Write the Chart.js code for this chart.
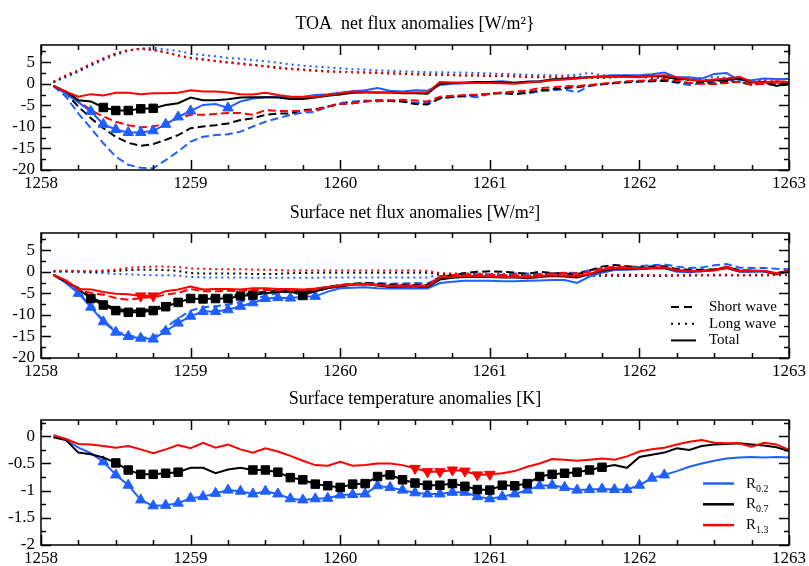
<!DOCTYPE html>
<html>
<head>
<meta charset="utf-8">
<title>Flux and temperature anomalies</title>
<script src="https://cdn.jsdelivr.net/npm/chart.js@4.4.1/dist/chart.umd.min.js"></script>
<style>
  body { margin: 0; background: #fff; }
  #wrap { position: relative; width: 809px; height: 566px; }
  canvas { position: absolute; left: 0; }
</style>
</head>
<body>
<div id="wrap">
  <canvas id="toa" width="809" height="192" style="top:0"></canvas>
  <canvas id="sfc" width="809" height="190" style="top:190px"></canvas>
  <canvas id="tmp" width="809" height="188" style="top:378px"></canvas>
</div>
<script>
// monthly values, Jan 1258 .. Dec 1262, plotted at the end of each month
const years = Array.from({ length: 60 }, (_, i) => 1258 + (i + 1) / 12);
const yearTicks = [1258, 1259, 1260, 1261, 1262, 1263];

const BLUE = '#1f5fff';
const BLACK = '#000000';
const RED = '#ff0000';

// ---- TOA net flux anomalies [W/m2]
const toaSwR02 = [-0.5, -3.0, -6.9, -10.3, -13.8, -16.9, -18.8, -19.5, -19.6, -17.7,
  -15.7, -13.4, -12.3, -11.9, -11.7, -11.1, -9.9, -8.8, -8.0, -7.2,
  -6.7, -6.5, -5.3, -4.5, -4.1, -3.9, -4.1, -3.8, -4.1, -4.4,
  -4.4, -3.3, -3.1, -2.9, -3.1, -2.3, -2.1, -2.0, -2.3, -1.7,
  -1.5, -1.3, -2.0, -0.5, -0.1, 0.1, 0.3, 0.5, 0.6, 0.9,
  0.2, -0.3, 0.1, 0.4, 0.9, 0.3, 0.0, 0.3, 0.1, 0.1];
const toaSwR07 = [-0.5, -2.2, -5.3, -8.0, -10.3, -12.3, -13.7, -14.4, -14.0, -13.0,
  -11.9, -10.3, -9.9, -9.6, -9.2, -8.4, -8.0, -7.2, -6.9, -6.9,
  -6.1, -5.9, -5.3, -4.7, -4.5, -4.1, -3.8, -4.0, -4.1, -4.7,
  -4.8, -3.4, -3.0, -2.8, -2.6, -2.3, -2.2, -2.4, -2.1, -1.5,
  -1.3, -1.0, -0.8, -0.4, -0.1, 0.2, 0.4, 0.6, 0.6, 0.7,
  0.4, 0.2, 0.3, 0.0, 0.5, 0.4, -0.2, 0.1, -0.4, -0.2];
const toaSwR13 = [-0.5, -1.8, -4.1, -6.1, -7.6, -8.8, -9.6, -10.1, -9.9, -9.2,
  -8.0, -7.2, -7.2, -7.0, -6.8, -6.8, -7.2, -6.1, -6.3, -6.3,
  -6.3, -6.1, -5.3, -4.7, -4.5, -4.1, -3.9, -3.9, -3.7, -3.9,
  -4.1, -3.0, -2.8, -2.6, -2.5, -2.3, -2.0, -1.8, -1.6, -1.0,
  -0.8, -0.6, -0.5, -0.3, 0.0, 0.3, 0.6, 0.7, 0.9, 1.1,
  0.7, 0.2, 0.0, -0.1, 0.2, 0.5, -0.2, 0.0, 0.1, 0.0];
const toaLwR02 = [0.3, 1.5, 2.8, 4.2, 5.5, 6.7, 7.6, 8.2, 8.4, 8.0,
  7.6, 7.0, 6.7, 6.4, 6.0, 5.8, 5.5, 5.2, 4.9, 4.5,
  4.2, 4.0, 3.8, 3.6, 3.4, 3.3, 3.1, 3.0, 2.9, 2.8,
  2.7, 2.7, 2.6, 2.6, 2.5, 2.4, 2.3, 2.2, 2.1, 2.0,
  2.0, 1.9, 2.1, 2.5, 2.0, 1.8, 1.7, 1.6, 1.6, 1.5,
  1.4, 1.2, 1.4, 1.6, 1.4, 1.0, 0.8, 0.9, 1.0, 1.0];
const toaLwR07 = [0.4, 1.8, 3.0, 4.5, 5.8, 7.0, 7.8, 8.1, 7.9, 7.3,
  6.6, 6.0, 5.7, 5.3, 5.0, 4.7, 4.4, 4.1, 3.8, 3.5,
  3.3, 3.1, 2.9, 2.8, 2.7, 2.6, 2.5, 2.4, 2.3, 2.2,
  2.1, 2.1, 2.0, 1.9, 1.9, 1.8, 1.8, 1.7, 1.6, 1.5,
  1.5, 1.4, 1.5, 1.4, 1.4, 1.5, 1.6, 1.6, 1.4, 1.5,
  1.2, 0.9, 0.7, 0.7, 1.0, 1.2, 0.5, 0.5, 0.3, 0.2];
const toaLwR13 = [0.5, 2.0, 3.2, 4.7, 5.9, 7.1, 7.8, 8.1, 7.8, 7.3,
  6.5, 5.9, 5.6, 5.2, 4.9, 4.6, 4.3, 4.0, 3.6, 3.4,
  3.2, 3.0, 2.8, 2.8, 2.7, 2.6, 2.6, 2.4, 2.4, 2.3,
  2.2, 2.2, 2.1, 2.0, 2.0, 1.9, 1.9, 1.8, 1.7, 1.6,
  1.6, 1.5, 1.6, 1.5, 1.5, 1.6, 1.8, 1.7, 1.5, 1.6,
  1.3, 1.0, 0.8, 0.8, 1.2, 1.3, 0.6, 0.6, 0.5, 0.3];
const toaNetR02 = [-0.5, -2.3, -4.3, -6.4, -9.4, -10.6, -11.3, -11.3, -10.9, -9.4,
  -7.7, -6.3, -4.9, -4.7, -5.6, -4.1, -3.4, -3.1, -3.0, -3.0,
  -3.0, -2.6, -2.4, -2.1, -1.7, -1.5, -1.0, -1.6, -1.8, -1.5,
  -1.6, -0.3, 0.0, 0.1, 0.2, 0.4, 0.6, 0.3, 0.5, 0.5,
  1.0, 1.3, 1.4, 1.6, 1.8, 2.0, 2.0, 2.0, 2.2, 2.6,
  1.5, 1.5, 1.2, 2.3, 2.5, 0.8, 0.8, 1.2, 1.1, 1.1];
const toaNetR07 = [-0.5, -1.8, -3.8, -4.1, -5.5, -6.2, -6.2, -5.8, -5.7, -4.9,
  -4.5, -3.2, -3.8, -3.8, -3.6, -3.2, -3.1, -3.1, -3.2, -3.5,
  -3.5, -3.2, -2.8, -2.5, -2.1, -2.0, -2.0, -2.0, -2.2, -2.2,
  -2.3, 0.0, 0.2, 0.3, 0.4, 0.4, 0.3, 0.2, 0.5, 0.6,
  1.0, 1.1, 1.3, 1.5, 1.6, 1.7, 1.7, 1.6, 1.8, 1.7,
  1.1, 1.0, 0.6, 0.8, 0.9, 1.2, 0.3, 0.5, -0.5, 0.2];
const toaNetR13 = [-0.5, -1.8, -3.0, -2.4, -2.7, -2.1, -2.1, -2.4, -2.2, -2.2,
  -2.1, -1.5, -1.8, -1.8, -2.0, -2.4, -2.5, -2.1, -2.6, -3.0,
  -3.1, -3.0, -2.6, -2.2, -1.8, -1.9, -2.0, -2.0, -2.0, -2.0,
  -2.0, 0.4, 0.3, 0.2, 0.2, 0.2, 0.1, 0.0, 0.3, 0.5,
  0.8, 1.0, 1.2, 1.5, 1.6, 1.7, 1.6, 1.5, 1.8, 2.0,
  1.5, 1.0, 0.7, 1.0, 1.2, 1.6, 0.5, 0.3, 0.6, 0.4];
const toaMarksR02 = [4, 5, 6, 7, 8, 9, 10, 11, 12, 15];
const toaMarksR07 = [5, 6, 7, 8, 9];

// ---- Surface net flux anomalies [W/m2]
const sfcSwR02 = [-0.7, -2.5, -4.8, -8.0, -11.3, -13.8, -14.8, -15.2, -15.3, -13.0,
  -10.8, -9.0, -8.2, -8.0, -7.6, -7.0, -6.2, -5.6, -5.0, -4.6,
  -4.5, -4.5, -3.8, -3.0, -2.9, -2.6, -2.6, -2.8, -2.7, -2.6,
  -2.7, -1.5, -1.0, -0.8, -0.6, -0.6, -0.7, -0.4, -0.4, -0.5,
  -0.3, -0.2, -0.3, 0.4, 0.8, 1.0, 1.1, 1.3, 1.5, 1.7,
  1.2, 0.9, 1.0, 1.5, 1.8, 1.0, 0.9, 0.9, 0.7, 0.6];
const sfcSwR07 = [-0.7, -2.2, -3.8, -5.8, -7.3, -8.6, -9.0, -9.0, -8.6, -7.6,
  -6.6, -5.9, -5.9, -5.8, -5.7, -5.2, -5.0, -4.6, -4.3, -4.2,
  -4.8, -4.0, -3.5, -3.1, -2.8, -2.6, -2.8, -3.0, -3.0, -3.0,
  -3.1, -1.2, -0.8, -0.3, 0.0, 0.1, 0.0, -0.2, -0.5, 0.0,
  -0.3, -0.4, -0.6, 0.3, 1.2, 1.6, 1.3, 1.0, 1.2, 1.3,
  0.6, 0.5, 0.5, 0.6, 1.1, 0.4, 0.3, 0.2, -0.4, 0.3];
const sfcSwR13 = [-0.7, -2.2, -4.1, -4.9, -5.3, -6.1, -6.5, -6.1, -5.9, -5.3,
  -4.9, -4.0, -4.5, -4.5, -4.4, -4.5, -4.2, -4.2, -4.3, -4.3,
  -4.3, -4.1, -3.6, -3.2, -3.0, -2.9, -3.1, -3.3, -3.2, -3.2,
  -3.2, -1.0, -0.8, -0.6, -0.6, -0.7, -0.8, -0.8, -1.0, -0.7,
  -0.4, -0.3, -0.4, 0.0, 0.8, 1.2, 1.1, 0.8, 1.0, 1.1,
  0.4, 0.2, 0.3, 0.5, 1.2, 0.3, 0.3, 0.2, -0.3, 0.3];
const sfcLwR02 = [0.0, 0.0, -0.1, -0.2, -0.3, -0.5, -0.6, -0.7, -0.8, -0.8,
  -0.9, -1.2, -1.3, -1.3, -1.3, -1.3, -1.4, -1.4, -1.4, -1.4,
  -1.4, -1.4, -1.3, -1.3, -1.3, -1.3, -1.3, -1.3, -1.3, -1.3,
  -1.3, -0.7, -0.7, -0.7, -0.8, -0.8, -0.8, -0.9, -0.9, -0.9,
  -0.9, -1.0, -1.0, -1.0, -1.0, -1.0, -1.0, -1.0, -0.9, -0.9,
  -0.9, -0.9, -0.8, -0.8, -0.8, -0.8, -0.8, -0.8, -0.8, -0.8];
const sfcLwR07 = [0.1, 0.1, 0.1, 0.0, 0.1, 0.2, 0.4, 0.5, 0.5, 0.4,
  0.2, -0.3, -0.4, -0.4, -0.4, -0.4, -0.5, -0.5, -0.5, -0.3,
  -0.3, -0.2, -0.2, -0.2, -0.2, -0.2, -0.2, -0.2, -0.2, -0.2,
  -0.2, -0.5, -0.5, -0.5, -0.6, -0.6, -0.6, -0.7, -0.7, -0.7,
  -0.8, -0.8, -0.8, -0.8, -0.8, -0.8, -0.9, -0.9, -0.9, -0.9,
  -0.8, -0.8, -0.8, -0.8, -0.8, -0.8, -0.8, -0.8, -0.7, -0.7];
const sfcLwR13 = [0.2, 0.3, 0.2, 0.2, 0.3, 0.5, 0.9, 1.1, 1.2, 1.2,
  1.1, 0.8, 0.7, 0.6, 0.6, 0.6, 0.5, 0.5, 0.4, 0.3,
  0.3, 0.3, 0.3, 0.3, 0.3, 0.3, 0.3, 0.3, 0.3, 0.3,
  0.2, -0.3, -0.4, -0.4, -0.4, -0.5, -0.5, -0.5, -0.6, -0.6,
  -0.6, -0.7, -0.7, -0.7, -0.7, -0.7, -0.6, -0.7, -0.8, -0.8,
  -0.8, -0.7, -0.8, -0.7, -0.7, -0.8, -0.7, -0.7, -0.7, -0.6];
const sfcNetR02 = [-0.7, -2.6, -5.0, -8.2, -11.6, -14.0, -15.0, -15.4, -15.6, -13.8,
  -11.9, -10.3, -9.2, -9.2, -8.8, -8.0, -7.2, -6.2, -6.0, -6.1,
  -5.8, -5.7, -4.6, -3.8, -3.7, -3.6, -3.8, -3.9, -3.8, -3.9,
  -3.9, -2.6, -2.3, -2.1, -2.1, -2.1, -2.2, -2.2, -2.1, -2.0,
  -1.9, -1.9, -2.6, -1.1, -0.2, 0.4, 0.5, 0.6, 0.8, 0.8,
  0.0, -0.1, 0.1, 0.5, 0.9, 0.0, 0.0, 0.1, -0.5, 0.2];
const sfcNetR07 = [-0.7, -2.3, -4.0, -6.2, -7.7, -9.0, -9.4, -9.4, -9.0, -8.1,
  -7.1, -6.2, -6.3, -6.2, -6.2, -5.6, -5.4, -5.0, -4.7, -4.6,
  -5.4, -4.5, -3.8, -3.4, -3.0, -2.9, -3.2, -3.5, -3.4, -3.4,
  -3.5, -1.8, -1.4, -1.2, -1.2, -1.2, -1.3, -1.3, -1.5, -1.2,
  -1.0, -1.1, -1.3, -0.6, 0.2, 0.7, 0.8, 0.7, 0.8, 0.9,
  0.3, 0.1, 0.2, 0.4, 0.9, 0.1, 0.1, 0.1, -0.6, 0.2];
const sfcNetR13 = [-0.7, -2.0, -4.0, -4.1, -4.7, -5.1, -5.2, -5.6, -5.6, -4.5,
  -4.1, -3.4, -4.1, -4.0, -4.0, -4.1, -3.8, -3.8, -4.0, -4.0,
  -4.1, -3.9, -3.5, -3.1, -2.9, -2.8, -3.0, -3.3, -3.2, -3.3,
  -3.3, -1.3, -1.2, -1.0, -1.0, -1.1, -1.2, -1.2, -1.3, -1.0,
  -0.8, -0.9, -1.0, -0.5, 0.5, 0.9, 0.9, 0.7, 0.9, 1.0,
  0.3, 0.1, 0.1, 0.3, 1.0, 0.1, 0.2, 0.2, -0.5, 0.3];
const sfcMarksR02 = [3, 4, 5, 6, 7, 8, 9, 10, 11, 12, 13, 14, 15, 16, 17, 18, 19, 20, 21, 22];
const sfcMarksR07 = [4, 5, 6, 7, 8, 9, 10, 11, 12, 13, 14, 15, 16, 17, 21];
const sfcMarksR13 = [8, 9];
const waveNames = ['Short wave', 'Long wave', 'Total'];

// ---- Surface temperature anomalies [K]
const tempR02 = [-0.01, -0.07, -0.21, -0.31, -0.47, -0.71, -0.90, -1.17, -1.28, -1.27,
  -1.23, -1.14, -1.11, -1.05, -0.99, -1.01, -1.06, -1.01, -1.06, -1.15,
  -1.17, -1.15, -1.14, -1.08, -1.07, -1.06, -0.91, -0.94, -0.99, -1.04,
  -1.06, -1.06, -1.03, -1.03, -1.11, -1.15, -1.11, -1.06, -0.99, -0.91,
  -0.90, -0.94, -0.99, -0.98, -0.97, -0.98, -0.98, -0.90, -0.77, -0.71,
  -0.64, -0.56, -0.50, -0.45, -0.41, -0.39, -0.38, -0.39, -0.38, -0.39];
const tempR07 = [-0.02, -0.07, -0.30, -0.33, -0.39, -0.49, -0.62, -0.70, -0.70, -0.68,
  -0.66, -0.58, -0.58, -0.68, -0.61, -0.58, -0.62, -0.62, -0.66, -0.76,
  -0.80, -0.88, -0.91, -0.94, -0.88, -0.87, -0.74, -0.71, -0.80, -0.86,
  -0.90, -0.90, -0.87, -0.92, -0.98, -0.99, -0.90, -0.91, -0.87, -0.74,
  -0.70, -0.68, -0.66, -0.62, -0.57, -0.53, -0.58, -0.38, -0.34, -0.30,
  -0.22, -0.25, -0.18, -0.15, -0.14, -0.13, -0.15, -0.17, -0.20, -0.27];
const tempR13 = [0.02, -0.05, -0.14, -0.15, -0.18, -0.21, -0.18, -0.24, -0.31, -0.24,
  -0.16, -0.22, -0.12, -0.21, -0.15, -0.24, -0.30, -0.22, -0.28, -0.36,
  -0.45, -0.53, -0.54, -0.47, -0.54, -0.53, -0.50, -0.50, -0.53, -0.59,
  -0.65, -0.65, -0.62, -0.64, -0.71, -0.70, -0.68, -0.64, -0.56, -0.50,
  -0.42, -0.43, -0.45, -0.43, -0.41, -0.43, -0.37, -0.28, -0.24, -0.21,
  -0.15, -0.10, -0.07, -0.12, -0.13, -0.13, -0.19, -0.12, -0.15, -0.25];
const tempMarksR02 = [5, 6, 7, 8, 9, 10, 11, 12, 13, 14, 15, 16, 17, 18, 19, 20, 21, 22, 23, 24,
  25, 26, 27, 28, 29, 30, 31, 32, 33, 34, 35, 36, 37, 38, 39, 40, 41, 42, 43, 44,
  45, 46, 47, 48, 49, 50];
const tempMarksR07 = [6, 7, 8, 9, 10, 11, 17, 18, 19, 20, 21, 22, 23, 24, 25, 26, 27, 28, 29, 30,
  31, 32, 33, 34, 35, 36, 37, 38, 39, 40, 41, 42, 43, 44, 45];
const tempMarksR13 = [30, 31, 32, 33, 34, 35, 36];
const runNames = [['R', '0.2'], ['R', '0.7'], ['R', '1.3']];
const runColors = [BLUE, BLACK, RED];

const SERIF = '"Liberation Serif", "Times New Roman", serif';

function series(values, color, style, marks, shape) {
  return {
    data: years.map((x, i) => ({ x, y: values[i] })),
    borderColor: color,
    backgroundColor: color,
    borderWidth: 2,
    borderDash: style === 'dash' ? [8, 4] : style === 'dot' ? [2, 4] : [],
    tension: 0,
    pointStyle: shape === 'square' ? 'rect' : 'triangle',
    pointRotation: shape === 'down' ? 180 : 0,
    pointBorderWidth: 1,
    pointBorderColor: color,
    pointBackgroundColor: color,
    pointRadius: c => (marks && marks.includes(c.dataIndex + 1) ? 6 : 0),
    pointHoverRadius: 0
  };
}

// frame with inward ticks on all four sides (grace style)
const frameTicks = {
  id: 'frameTicks',
  afterDatasetsDraw(chart, args, opts) {
    const { ctx, chartArea: a, scales: { x, y } } = chart;
    ctx.save();
    ctx.strokeStyle = '#000';
    ctx.lineWidth = 1.5;
    ctx.beginPath();
    const steps = (min, max, step) => {
      const out = [];
      for (let v = Math.ceil(min / step - 1e-6) * step; v <= max + 1e-6; v += step) out.push(v);
      return out;
    };
    const isMajor = (v, step) => Math.abs(v / step - Math.round(v / step)) < 1e-6;
    steps(x.min, x.max, opts.xMinor).forEach(v => {
      const p = Math.round(x.getPixelForValue(v)) + 0.5;
      const len = isMajor(v, opts.xMajor) ? 10 : 5;
      ctx.moveTo(p, a.bottom); ctx.lineTo(p, a.bottom - len);
      ctx.moveTo(p, a.top); ctx.lineTo(p, a.top + len);
    });
    steps(y.min, y.max, opts.yMinor).forEach(v => {
      const p = Math.round(y.getPixelForValue(v)) + 0.5;
      const len = isMajor(v, opts.yMajor) ? 10 : 5;
      ctx.moveTo(a.left, p); ctx.lineTo(a.left + len, p);
      ctx.moveTo(a.right, p); ctx.lineTo(a.right - len, p);
    });
    ctx.stroke();
    ctx.strokeRect(a.left, a.top, a.right - a.left, a.bottom - a.top);
    ctx.restore();
  }
};

const waveLegend = {
  id: 'waveLegend',
  afterDraw(chart) {
    const { ctx, chartArea: a } = chart;
    const dashes = [[8, 5], [2, 5], []];
    ctx.save();
    ctx.font = '15px ' + SERIF;
    ctx.textBaseline = 'middle';
    ctx.fillStyle = '#000';
    ctx.strokeStyle = '#000';
    ctx.lineWidth = 2;
    waveNames.forEach((name, i) => {
      const yy = a.top + 74 + i * 16.7;
      ctx.setLineDash(dashes[i]);
      ctx.beginPath();
      ctx.moveTo(a.right - 118, yy);
      ctx.lineTo(a.right - 93, yy);
      ctx.stroke();
      ctx.fillText(name, a.right - 80, yy);
    });
    ctx.restore();
  }
};

const runLegend = {
  id: 'runLegend',
  afterDraw(chart) {
    const { ctx, chartArea: a } = chart;
    ctx.save();
    ctx.textBaseline = 'alphabetic';
    ctx.fillStyle = '#000';
    ctx.lineWidth = 2.5;
    runNames.forEach((parts, i) => {
      const yy = a.top + 63.5 + i * 20.8;
      ctx.strokeStyle = runColors[i];
      ctx.beginPath();
      ctx.moveTo(a.right - 86, yy);
      ctx.lineTo(a.right - 55, yy);
      ctx.stroke();
      ctx.font = '15px ' + SERIF;
      ctx.fillText(parts[0], a.right - 43, yy + 4);
      const w = ctx.measureText(parts[0]).width;
      ctx.font = '10px ' + SERIF;
      ctx.fillText(parts[1], a.right - 43 + w, yy + 8);
    });
    ctx.restore();
  }
};

function panel(id, opts) {
  return new Chart(document.getElementById(id), {
    type: 'line',
    data: { datasets: opts.datasets },
    options: {
      responsive: false,
      animation: false,
      events: [],
      layout: { padding: { left: 0, right: 18, top: 0, bottom: 0 } },
      plugins: {
        legend: { display: false },
        tooltip: { enabled: false },
        title: {
          display: true,
          fullSize: false,
          text: opts.title,
          color: '#000',
          font: { family: SERIF, size: 18, weight: 'normal' },
          padding: opts.titlePad
        },
        frameTicks: opts.ticks
      },
      scales: {
        x: {
          type: 'linear',
          min: 1258,
          max: 1263,
          grid: { display: false, drawTicks: false },
          border: { display: false },
          ticks: {
            color: '#000',
            font: { family: SERIF, size: 17 },
            padding: 3,
            maxRotation: 0,
            autoSkip: false,
            callback: v => String(v)
          },
          afterBuildTicks: s => { s.ticks = yearTicks.map(v => ({ value: v })); },
          afterFit: s => { s.height = opts.xHeight; }
        },
        y: {
          min: opts.yMin,
          max: opts.yMax,
          grid: { display: false, drawTicks: false },
          border: { display: false },
          ticks: {
            color: '#000',
            font: { family: SERIF, size: 17 },
            padding: 6,
            autoSkip: false,
            callback: v => String(v)
          },
          afterBuildTicks: s => { s.ticks = opts.yTicks.map(v => ({ value: v })); },
          afterFit: s => { s.width = 41; }
        }
      }
    },
    plugins: [frameTicks].concat(opts.extra || [])
  });
}

panel('toa', {
  title: 'TOA  net flux anomalies [W/m\u00b2}',
  titlePad: { top: 13.8, bottom: 9.6 },
  xHeight: 22,
  yMin: -20, yMax: 9,
  yTicks: [-20, -15, -10, -5, 0, 5],
  ticks: { xMajor: 1, xMinor: 0.25, yMajor: 5, yMinor: 2.5 },
  datasets: [
    series(toaNetR13, RED, 'solid'),
    series(toaNetR07, BLACK, 'solid', toaMarksR07, 'square'),
    series(toaNetR02, BLUE, 'solid', toaMarksR02, 'up'),
    series(toaSwR13, RED, 'dash'),
    series(toaSwR07, BLACK, 'dash'),
    series(toaSwR02, BLUE, 'dash'),
    series(toaLwR13, RED, 'dot'),
    series(toaLwR07, BLACK, 'dot'),
    series(toaLwR02, BLUE, 'dot')
  ]
});

panel('sfc', {
  title: 'Surface net flux anomalies [W/m\u00b2]',
  titlePad: { top: 12.2, bottom: 9.2 },
  xHeight: 22,
  yMin: -20, yMax: 9,
  yTicks: [-20, -15, -10, -5, 0, 5],
  ticks: { xMajor: 1, xMinor: 0.25, yMajor: 5, yMinor: 2.5 },
  extra: [waveLegend],
  datasets: [
    series(sfcNetR13, RED, 'solid', sfcMarksR13, 'down'),
    series(sfcSwR13, RED, 'dash'),
    series(sfcNetR07, BLACK, 'solid', sfcMarksR07, 'square'),
    series(sfcSwR07, BLACK, 'dash'),
    series(sfcNetR02, BLUE, 'solid', sfcMarksR02, 'up'),
    series(sfcSwR02, BLUE, 'dash'),
    series(sfcLwR13, RED, 'dot'),
    series(sfcLwR07, BLACK, 'dot'),
    series(sfcLwR02, BLUE, 'dot')
  ]
});

panel('tmp', {
  title: 'Surface temperature anomalies [K]',
  titlePad: { top: 10.8, bottom: 9.6 },
  xHeight: 21,
  yMin: -2, yMax: 0.3,
  yTicks: [-2, -1.5, -1, -0.5, 0],
  ticks: { xMajor: 1, xMinor: 0.25, yMajor: 0.5, yMinor: 0.25 },
  extra: [runLegend],
  datasets: [
    series(tempR13, RED, 'solid', tempMarksR13, 'down'),
    series(tempR07, BLACK, 'solid', tempMarksR07, 'square'),
    series(tempR02, BLUE, 'solid', tempMarksR02, 'up')
  ]
});
</script>
</body>
</html>
